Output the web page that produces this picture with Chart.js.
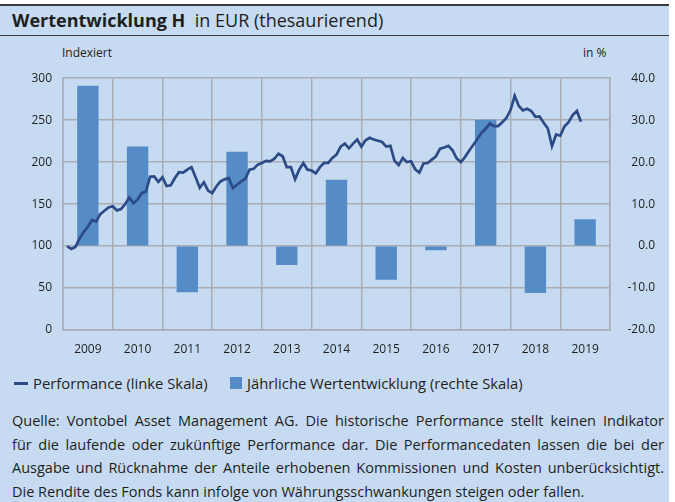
<!DOCTYPE html>
<html>
<head>
<meta charset="utf-8">
<script src="https://cdn.jsdelivr.net/npm/chart.js@4.4.1/dist/chart.umd.min.js"></script>
<style>
body{margin:0;background:#fff;width:675px;height:502px;overflow:hidden;font-family:"Open Sans",sans-serif;color:#1e1e1e;}
#panel{position:absolute;left:0;top:4px;width:669px;height:498px;background:#c6dbf1;border-top:2px solid #3a3a3a;}
#title{position:absolute;left:12px;top:8px;font-size:18px;line-height:24px;white-space:nowrap;}
#title b{font-weight:700;}
#titleLine{position:absolute;left:0;top:35px;width:669px;height:0;border-top:1.5px solid #3a3a3a;}
.axisNote{position:absolute;top:45px;font-size:12px;line-height:16px;}
#chartBox{position:absolute;left:0;top:60px;width:669px;height:300px;}
#legend{position:absolute;left:0;top:374px;font-size:14.8px;line-height:18px;white-space:nowrap;}
.legendItem{position:absolute;top:0;}
.legendMarker{position:absolute;}
#footer{position:absolute;left:12px;top:409px;width:652px;font-size:14.5px;line-height:23.5px;}
#footer div{text-align:justify;text-align-last:justify;white-space:nowrap;}
#footer div.last{text-align-last:left;}
</style>
</head>
<body>
<div id="panel"></div>
<div id="title"><b>Wertentwicklung H</b>&nbsp; in EUR (thesaurierend)</div>
<div id="titleLine"></div>
<div class="axisNote" style="left:62px;">Indexiert</div>
<div class="axisNote" style="left:583px;">in %</div>
<div id="chartBox"><canvas id="chart"></canvas></div>
<div id="legend"></div>
<div id="footer"></div>

<script>
// Jahre (Kategorien) und jährliche Wertentwicklung in % (rechte Skala)
const years = ["2009","2010","2011","2012","2013","2014","2015","2016","2017","2018","2019"];
const annualReturn = [38.2, 23.7, -11.0, 22.5, -4.5, 15.8, -8.0, -1.0, 30.1, -11.2, 6.4];

// Monatliche Performance indexiert (linke Skala), Jan 2009 .. Mai 2019
const perf2009 = [100, 96.5, 99, 109, 117, 123, 131, 129.5, 138, 142, 146, 147.5];
const perf2010 = [142.5, 144, 150, 158, 151, 155.5, 163, 165, 182.5, 183, 176.5, 182];
const perf2011 = [171.5, 172.5, 181, 188, 187.5, 191, 194, 182, 169.5, 176, 166, 163];
const perf2012 = [171, 177, 179.5, 181, 169, 173, 177, 180, 191, 192, 197, 199];
const perf2013 = [201.5, 201, 204, 210, 207, 194, 194, 179.5, 191, 199, 191, 190];
const perf2014 = [186.5, 194, 199, 199, 205, 209, 218.5, 222, 216.5, 222, 227, 218.5];
const perf2015 = [226, 229, 227, 225.5, 224, 218.5, 219.5, 201.5, 196.5, 205, 200, 201];
const perf2016 = [191.5, 187.5, 198.5, 199, 203, 207, 216, 217.5, 219.5, 214, 204.5, 200];
const perf2017 = [206, 213.5, 220.5, 227.5, 235, 240, 246, 243, 243, 247.5, 252.5, 262];
const perf2018 = [279, 267, 261.5, 263.5, 261, 254, 254.5, 247, 240, 219, 233, 231.5];
const perf2019 = [242.5, 247.5, 256, 261, 248];

const leftTicks = {min: 0, max: 300, step: 50};
const rightTicks = {min: -20, max: 40, step: 10};

const lineColour = "#2b4a86";
const barColour = "#558cc7";
const gridColour = "#a9adb3";
const textColour = "#1e1e1e";

const perfMonthly = [].concat(perf2009, perf2010, perf2011, perf2012, perf2013, perf2014,
                              perf2015, perf2016, perf2017, perf2018, perf2019);
// Monatsende: Punkt i liegt am Ende des Monats i
const perfPoints = perfMonthly.map((v, i) => ({x: i + 1, y: v}));

let html = "";
html += "<div class='legendItem' style='left:14px;'><span class='legendMarker' style='left:0;top:8px;width:14px;height:3px;background:" + lineColour + "'></span><span style='margin-left:19px'>Performance (linke Skala)</span></div>";
html += "<div class='legendItem' style='left:230px;'><span class='legendMarker' style='left:0;top:3px;width:12px;height:12px;background:" + barColour + "'></span><span style='margin-left:17px'>Jährliche Wertentwicklung (rechte Skala)</span></div>";
document.getElementById("legend").innerHTML = html;

const footerLines = [
  "Quelle: Vontobel Asset Management AG. Die historische Performance stellt keinen Indikator",
  "für die laufende oder zukünftige Performance dar. Die Performancedaten lassen die bei der",
  "Ausgabe und Rücknahme der Anteile erhobenen Kommissionen und Kosten unberücksichtigt.",
  "Die Rendite des Fonds kann infolge von Währungsschwankungen steigen oder fallen."
];
html = "";
footerLines.forEach((l, i) => {
  html += "<div" + (i == footerLines.length - 1 ? " class='last'" : "") + ">" + l + "</div>";
});
document.getElementById("footer").innerHTML = html;

const tickFont = {family: "'Open Sans', sans-serif", size: 12};

new Chart(document.getElementById("chart"), {
  type: 'bar',
  data: {
    labels: years,
    datasets: [
      {type: 'line', label: 'Performance (linke Skala)', data: perfPoints, xAxisID: 'xLine', yAxisID: 'yLeft',
       borderColor: lineColour, borderWidth: 2.7, pointRadius: 0, tension: 0, order: 0},
      {type: 'bar', label: 'Jährliche Wertentwicklung (rechte Skala)', data: annualReturn, xAxisID: 'x', yAxisID: 'yRight',
       backgroundColor: barColour, barPercentage: 0.43, categoryPercentage: 1, grouped: false, order: 1}
    ]
  },
  options: {
    responsive: true,
    maintainAspectRatio: false,
    animation: false,
    layout: {padding: {top: 14, right: 14, left: 0, bottom: 0}},
    plugins: {legend: {display: false}, tooltip: {enabled: false}},
    scales: {
      x: {type: 'category', offset: true, position: 'bottom',
          grid: {offset: true, color: gridColour, lineWidth: 1.5, drawTicks: false},
          border: {color: gridColour, width: 1.5},
          ticks: {color: textColour, font: tickFont, padding: 12, maxRotation: 0},
          afterFit: s => { s.height = 30; }},
      xLine: {type: 'linear', display: false, offset: false, grid: {offset: false},
          min: 0, max: years.length * 12},
      yLeft: {type: 'linear', position: 'left', min: leftTicks.min, max: leftTicks.max,
          grid: {color: gridColour, lineWidth: 1.5, drawTicks: false},
          border: {color: gridColour, width: 1.5},
          ticks: {stepSize: leftTicks.step, color: textColour, font: tickFont, padding: 11},
          afterFit: s => { s.width = 63; }},
      yRight: {type: 'linear', position: 'right', min: rightTicks.min, max: rightTicks.max,
          grid: {drawOnChartArea: false, drawTicks: false},
          border: {color: gridColour, width: 1.5},
          ticks: {stepSize: rightTicks.step, color: textColour, font: tickFont, padding: 10, crossAlign: 'far',
                  callback: v => v.toFixed(1)},
          afterFit: s => { s.width = 45; }}
    }
  }
});
</script>
</body>
</html>
